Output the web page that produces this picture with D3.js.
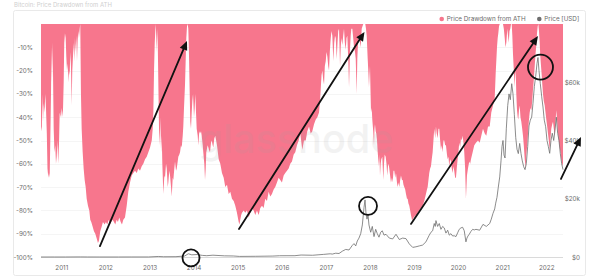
<!DOCTYPE html>
<html><head><meta charset="utf-8">
<script src="https://cdn.jsdelivr.net/npm/d3@7"></script>
<style>
html,body{margin:0;padding:0;background:#fff;}
svg{display:block;font-family:Inter,"Noto Sans",sans-serif;}
</style></head><body>
<svg id="chart" width="600" height="277"></svg>
<script>
// ---------- DATA ----------
const yearTicks = [2011,2012,2013,2014,2015,2016,2017,2018,2019,2020,2021,2022];
const ddTicks = [-10,-20,-30,-40,-50,-60,-70,-80,-90,-100];
const priceTicks = [0,20000,40000,60000];
const legendLabels = ["Price Drawdown from ATH","Price [USD]"];

// [decimal year, drawdown %]
const drawdownSeries = [
[2010.540,-44],[2010.558,-46],[2010.569,-30],[2010.585,-42],[2010.601,-34],[2010.619,-38],[2010.638,-30],[2010.653,-36],[2010.672,-47],[2010.687,-62],[2010.706,-66],[2010.721,-64],[2010.737,-66],[2010.751,-50],[2010.767,-30],[2010.778,-10],[2010.789,-25],[2010.801,-8],[2010.812,-20],[2010.828,-45],[2010.846,-55],[2010.864,-52],[2010.880,-60],[2010.896,-57],[2010.914,-50],[2010.930,-60],[2010.948,-52],[2010.964,-38],[2010.982,-40],[2011.000,-36],[2011.016,-40],[2011.039,-37],[2011.055,-25],[2011.068,-8],[2011.084,-4],[2011.100,-6],[2011.114,-14],[2011.130,-20],[2011.146,-17],[2011.159,-25],[2011.175,-20],[2011.191,-22],[2011.205,-12],[2011.220,-18],[2011.236,-35],[2011.250,-20],[2011.266,-14],[2011.282,-8],[2011.295,-16],[2011.311,-6],[2011.327,-12],[2011.341,-5],[2011.357,-16],[2011.372,-7],[2011.386,-3],[2011.402,-6],[2011.418,-2],[2011.431,0],[2011.447,-30],[2011.463,-45],[2011.486,-55],[2011.508,-62],[2011.531,-67],[2011.554,-70],[2011.577,-75],[2011.606,-78],[2011.636,-80],[2011.658,-84],[2011.681,-85],[2011.713,-87],[2011.742,-89],[2011.772,-90],[2011.803,-92],[2011.833,-94],[2011.855,-93],[2011.885,-89],[2011.917,-87],[2011.946,-85],[2011.985,-86],[2012.014,-85],[2012.044,-86],[2012.076,-84],[2012.105,-86],[2012.134,-85],[2012.166,-84],[2012.196,-85],[2012.225,-86],[2012.257,-84],[2012.286,-85],[2012.316,-83],[2012.348,-85],[2012.377,-86],[2012.407,-84],
[2012.445,-83],[2012.484,-78],[2012.520,-72],[2012.559,-68],[2012.597,-65],[2012.633,-64],[2012.672,-63],[2012.711,-64],[2012.747,-62],[2012.785,-63],[2012.824,-61],[2012.860,-60],[2012.899,-58],[2012.937,-57],[2012.974,-55],[2013.012,-53],[2013.051,-50],[2013.073,-45],[2013.087,-38],[2013.103,-20],[2013.119,-8],[2013.132,-3],[2013.142,0],[2013.155,-6],[2013.164,-12],[2013.178,-2],[2013.189,-10],[2013.201,-26],[2013.216,-45],[2013.232,-52],[2013.246,-40],[2013.262,-55],[2013.278,-48],[2013.291,-60],[2013.314,-73],[2013.337,-65],[2013.352,-66],[2013.375,-60],[2013.391,-62],[2013.414,-70],[2013.427,-68],[2013.450,-63],[2013.466,-65],[2013.489,-70],[2013.504,-74],[2013.527,-66],[2013.541,-67],[2013.563,-62],[2013.579,-59],[2013.602,-63],[2013.618,-62],[2013.640,-59],[2013.654,-57],[2013.677,-56],[2013.693,-55],[2013.715,-52],[2013.731,-53],[2013.754,-48],[2013.767,-44],[2013.783,-36],[2013.806,-26],[2013.822,-15],[2013.836,-6],[2013.851,-1],[2013.867,0],[2013.881,-2],[2013.897,-14],[2013.913,-30],[2013.926,-42],[2013.942,-45],[2013.958,-38],[2013.972,-33],[2013.988,-30],[2014.010,-40],[2014.026,-36],[2014.040,-30],[2014.056,-38],[2014.071,-45],[2014.094,-48],[2014.108,-52],[2014.130,-46],[2014.146,-47],[2014.169,-46],[2014.185,-48],[2014.208,-52],[2014.221,-55],[2014.244,-60],[2014.260,-67],[2014.276,-62],[2014.289,-55],[2014.321,-52],[2014.350,-54],[2014.373,-55],[2014.396,-51],[2014.412,-50],[2014.434,-52],[2014.448,-53],[2014.471,-49],[2014.493,-48],
[2014.532,-52],[2014.570,-58],[2014.607,-60],[2014.645,-64],[2014.684,-66],[2014.720,-70],[2014.759,-69],[2014.797,-73],[2014.834,-72],[2014.872,-75],[2014.911,-76],[2014.947,-78],[2014.985,-81],[2015.024,-85],[2015.042,-86],[2015.060,-84],[2015.081,-82],[2015.099,-81],[2015.137,-80],[2015.174,-81],[2015.212,-80],[2015.251,-83],[2015.287,-81],[2015.326,-79],[2015.364,-80],[2015.401,-82],[2015.439,-80],[2015.478,-82],[2015.514,-79],[2015.553,-78],[2015.591,-79],[2015.627,-75],[2015.666,-76],[2015.704,-72],[2015.741,-74],[2015.779,-73],[2015.818,-71],[2015.854,-70],[2015.893,-68],[2015.931,-66],[2015.968,-67],[2016.006,-68],[2016.045,-65],[2016.081,-64],[2016.120,-63],[2016.158,-62],[2016.195,-60],[2016.233,-59],[2016.272,-56],[2016.308,-55],[2016.346,-52],[2016.385,-50],[2016.421,-47],
[2016.467,-54],[2016.505,-50],[2016.544,-50],[2016.580,-46],[2016.619,-44],[2016.657,-47],[2016.693,-46],[2016.732,-43],[2016.771,-41],[2016.807,-40],[2016.845,-38],[2016.868,-33],[2016.884,-28],[2016.902,-22],[2016.920,-20],[2016.941,-24],[2016.959,-26],[2016.977,-18],[2016.997,-16],[2017.015,-12],[2017.034,-14],[2017.054,-18],[2017.072,-20],[2017.090,-12],[2017.111,-6],[2017.129,-3],[2017.147,-5],[2017.170,-16],[2017.190,-8],[2017.208,-5],[2017.224,-6],[2017.247,-15],[2017.265,-8],[2017.281,-3],[2017.299,-2],[2017.322,-18],[2017.338,-10],[2017.351,-6],[2017.374,-9],[2017.394,-5],[2017.412,-2],[2017.431,-8],[2017.451,-11],[2017.469,-6],[2017.487,-5],[2017.508,-15],[2017.526,-27],[2017.537,-20],[2017.548,-11],[2017.564,-5],[2017.578,-2],[2017.601,-2],[2017.621,-6],[2017.639,-10],[2017.662,-12],[2017.678,-15],[2017.700,-30],[2017.714,-15],[2017.730,-8],[2017.752,-5],[2017.775,-8],[2017.791,-10],[2017.814,-2],[2017.832,-1],[2017.850,0],[2017.873,0],[2017.895,0],[2017.911,-2],[2017.927,-5],[2017.950,-15],[2017.963,-20],[2017.979,-27],[2017.990,-22],[2018.002,-18],[2018.013,-28],[2018.025,-38],[2018.041,-36],[2018.054,-41],[2018.075,-46],[2018.093,-52],[2018.104,-45],[2018.115,-43],[2018.131,-46],[2018.145,-47],[2018.161,-50],[2018.177,-55],[2018.190,-58],[2018.206,-61],[2018.217,-56],[2018.229,-65],[2018.245,-60],[2018.258,-58],[2018.281,-57],[2018.304,-67],[2018.320,-60],[2018.335,-56],[2018.358,-57],[2018.376,-60],[2018.394,-65],[2018.415,-60],[2018.433,-61],
[2018.478,-68],[2018.501,-66],[2018.517,-68],[2018.535,-63],[2018.553,-63],[2018.574,-66],[2018.592,-64],[2018.614,-68],[2018.630,-70],[2018.648,-68],[2018.667,-70],[2018.687,-67],[2018.705,-65],[2018.728,-67],[2018.744,-67],[2018.762,-69],[2018.780,-70],[2018.801,-71],[2018.819,-73],[2018.841,-75],[2018.857,-75],[2018.875,-77],[2018.894,-78],[2018.914,-80],[2018.932,-82],[2018.955,-84],[2018.971,-84],[2018.989,-83],[2019.007,-83],[2019.027,-82],[2019.045,-83],[2019.084,-81],[2019.120,-80],[2019.159,-79],[2019.197,-78],[2019.234,-76],[2019.272,-73],[2019.295,-71],[2019.311,-70],[2019.329,-67],[2019.347,-64],[2019.367,-62],[2019.386,-61],[2019.404,-58],[2019.424,-55],[2019.442,-50],[2019.460,-45],[2019.483,-49],[2019.499,-44],[2019.517,-47],[2019.537,-49],[2019.556,-45],[2019.574,-45],[2019.594,-50],[2019.612,-54],[2019.630,-52],[2019.651,-55],[2019.669,-50],[2019.687,-50],[2019.708,-52],[2019.726,-52],[2019.749,-56],[2019.765,-58],[2019.783,-57],[2019.801,-61],[2019.822,-58],[2019.839,-59],[2019.858,-62],[2019.878,-64],[2019.896,-61],[2019.914,-63],[2019.935,-66],[2019.953,-66],[2019.971,-62],[2019.991,-58],[2020.009,-55],[2020.027,-51],[2020.048,-53],[2020.066,-49],[2020.084,-50],[2020.104,-48],[2020.123,-51],[2020.141,-55],[2020.161,-62],[2020.179,-75],[2020.191,-70],[2020.202,-65],[2020.225,-62],[2020.254,-59],[2020.275,-60],[2020.293,-58],[2020.331,-55],[2020.368,-52],[2020.406,-51],
[2020.452,-50],[2020.490,-51],[2020.527,-48],[2020.565,-45],[2020.604,-47],[2020.640,-48],[2020.679,-44],[2020.717,-44],[2020.753,-38],[2020.792,-35],[2020.830,-32],[2020.853,-21],[2020.869,-15],[2020.882,-10],[2020.898,-6],[2020.912,-4],[2020.928,-1],[2020.944,0],[2020.962,0],[2020.980,0],[2021.000,0],[2021.018,0],[2021.037,-2],[2021.057,-6],[2021.075,-10],[2021.093,-8],[2021.116,-2],[2021.132,-5],[2021.148,-8],[2021.166,-3],[2021.184,-2],[2021.200,0],[2021.216,0],[2021.230,-5],[2021.245,-13],[2021.264,-20],[2021.284,-27],[2021.295,-22],[2021.307,-20],[2021.320,-30],[2021.336,-37],[2021.352,-40],[2021.366,-41],[2021.381,-37],[2021.397,-35],[2021.415,-40],[2021.434,-42],[2021.454,-45],[2021.472,-48],[2021.490,-52],[2021.511,-58],[2021.522,-60],[2021.534,-62],[2021.547,-56],[2021.563,-53],[2021.579,-49],[2021.593,-45],[2021.608,-41],[2021.624,-38],[2021.642,-36],[2021.661,-37],[2021.681,-33],[2021.699,-28],[2021.717,-24],[2021.738,-18],[2021.756,-13],[2021.774,-9],[2021.790,-4],[2021.806,-1],[2021.819,0],[2021.835,-3],[2021.851,-8],[2021.865,-14],[2021.881,-18],[2021.897,-22],[2021.910,-26],[2021.926,-30],[2021.944,-33],[2021.965,-35],[2021.983,-38],[2022.001,-41],[2022.021,-44],[2022.039,-47],[2022.058,-50],[2022.078,-54],[2022.096,-49],[2022.114,-45],[2022.135,-43],[2022.153,-42],[2022.171,-45],[2022.192,-48],[2022.210,-42],[2022.228,-37],[2022.248,-42],[2022.266,-47],[2022.284,-50],[2022.305,-53],[2022.323,-55],[2022.341,-58],[2022.361,-60],[2022.380,-61]
];

// [decimal year, price USD]
const priceSeries = [
[2010.540,0.07],[2010.850,0.3],[2011.100,1],[2011.431,28],[2011.600,10],[2011.860,2.5],[2012.300,5],[2012.600,11],[2012.980,13],[2013.200,180],[2013.320,90],[2013.600,110],[2013.800,350],[2013.880,1100],[2013.960,750],[2014.080,850],[2014.200,550],[2014.300,450],[2014.440,620],[2014.700,400],[2014.900,350],[2015.040,200],[2015.400,240],[2015.800,320],[2015.950,430],[2016.300,450],[2016.440,680],[2016.700,600],[2016.950,900],[2017.100,1100],
[2017.147,1000],[2017.224,1300],[2017.299,1200],[2017.374,2000],[2017.451,2600],[2017.526,2400],[2017.601,4000],[2017.639,4600],[2017.678,3800],[2017.714,5500],[2017.752,6500],[2017.791,8000],[2017.828,11000],[2017.866,17000],[2017.889,19600],[2017.911,15000],[2017.934,13000],[2017.957,14500],[2017.979,11000],[2018.018,8500],[2018.054,10500],[2018.093,7000],[2018.131,9500],[2018.168,8000],[2018.206,6800],[2018.245,8500],[2018.281,9000],[2018.320,7500],[2018.365,7800],[2018.440,6500],[2018.517,6200],[2018.592,7800],[2018.667,6000],[2018.744,6500],[2018.819,6300],[2018.894,4500],[2018.971,3300],[2019.045,3500],[2019.120,3800],[2019.197,4100],[2019.272,5200],[2019.347,7500],[2019.386,8500],[2019.424,9000],[2019.460,11500],[2019.483,10500],[2019.499,12500],[2019.537,10500],[2019.574,11500],[2019.612,9500],[2019.651,10500],[2019.687,10000],[2019.726,8200],[2019.765,9200],[2019.801,7500],[2019.839,8000],[2019.878,7200],[2019.914,7300],[2019.953,7000],[2019.991,8300],[2020.027,9500],[2020.066,10000],[2020.104,10200],[2020.141,9000],[2020.179,5200],[2020.202,6500],[2020.225,7200],[2020.254,7800],[2020.293,8800],[2020.331,9500],[2020.368,9300],[2020.406,9500],[2020.490,9200],[2020.565,11200],[2020.640,10500],[2020.717,11500],[2020.753,13000],[2020.792,15000],[2020.830,16500],[2020.853,18500],[2020.882,20500],[2020.912,24000],[2020.944,27500],[2020.973,33000],[2020.996,38000],[2021.018,40000],[2021.041,35000],[2021.064,34000],[2021.093,44000],[2021.125,52000],[2021.155,56000],[2021.184,54000],[2021.216,59500],[2021.245,56000],[2021.275,49000],[2021.307,41000],[2021.336,37000],[2021.366,35500],[2021.397,39000],[2021.427,35500],[2021.456,33000],[2021.488,31000],[2021.518,30000],[2021.547,32000],[2021.579,38000],[2021.608,45000],[2021.638,47000],[2021.669,48000],[2021.699,52800],[2021.729,58500],[2021.760,62000],[2021.790,66500],[2021.812,68500],[2021.835,64000],[2021.865,59500],[2021.897,55000],[2021.926,51500],[2021.955,47000],[2021.987,44700],[2022.017,40000],[2022.046,38000],[2022.078,35600],[2022.107,40000],[2022.137,42500],[2022.169,40000],[2022.198,43500],[2022.228,48000],[2022.259,42500],[2022.289,40000],[2022.318,35600],[2022.350,32000],[2022.380,30000]
];

// hand-drawn annotations, in data units [decimal year, drawdown %]
const arrowStarts = [[2011.878,-95.3],[2015.031,-88.0],[2018.932,-85.8],[2022.334,-66.5]];
const arrowEnds   = [[2013.851,-7.3],[2017.877,-3.4],[2021.812,-5.2],[2022.788,-48.5]];
const circleCenters = [[2013.942,-100.4],[2017.957,-78.1],[2021.869,-18.5]];

// ---------- DRAW ----------
function toDate(t){const yr=Math.floor(t);const a=Date.UTC(yr,0,1),b=Date.UTC(yr+1,0,1);return new Date(a+(t-yr)*(b-a));}

const svg = d3.select("#chart");
const plot = {left:41,right:563,top:24,bottom:257};
const x = d3.scaleUtc().domain([toDate(2010.54),toDate(2022.38)]).range([plot.left,plot.right]);
const y = d3.scaleLinear().domain([-100,0]).range([plot.bottom,plot.top]);
const yP = d3.scaleLinear().domain([0,80000]).range([plot.bottom,plot.top]);
const textColor="#6b6b6b", fs=6.3;

// faint title above the card
svg.append("text").attr("x",14).attr("y",7).attr("font-size",6).attr("fill","#cfcfcf").text("Bitcoin: Price Drawdown from ATH");

// card
svg.append("rect").attr("x",13.5).attr("y",10.5).attr("width",572).attr("height",265).attr("rx",2)
  .attr("fill","#fff").attr("stroke","#e9e9e9").attr("stroke-width",1);

// gridlines
svg.append("g").selectAll("line").data(ddTicks).join("line")
  .attr("x1",plot.left).attr("x2",plot.right)
  .attr("y1",d=>Math.round(y(d))+0.5).attr("y2",d=>Math.round(y(d))+0.5)
  .attr("stroke",d=>d===-100?"#d0d0d0":"#f0f0f0").attr("stroke-width",d=>d===-100?0.8:0.7);

// drawdown area
const area = d3.area().x(d=>x(toDate(d[0]))).y0(y(0)).y1(d=>y(d[1]));
svg.append("path").datum(drawdownSeries).attr("d",area).attr("fill","#f7768d");

// price line
const line = d3.line().x(d=>x(toDate(d[0]))).y(d=>yP(d[1]));
svg.append("path").datum(priceSeries).attr("d",line).attr("fill","none")
  .attr("stroke","#6e6e6e").attr("stroke-width",0.8).attr("stroke-linejoin","round");

// watermark
svg.append("text").attr("x",296).attr("y",153).attr("text-anchor","middle")
  .attr("font-size",40).attr("font-weight",500).attr("fill","#a0a0a0").attr("opacity",0.13)
  .attr("textLength",195).attr("lengthAdjust","spacingAndGlyphs").text("glassnode");

// axes
const yAxis = d3.axisLeft(y).tickValues(ddTicks).tickSize(0).tickPadding(3).tickFormat(d=>d+"%");
const gy = svg.append("g").attr("transform","translate(36,0)").call(yAxis);
const pAxis = d3.axisRight(yP).tickValues(priceTicks).tickSize(0).tickPadding(0)
  .tickFormat(d=>d===0?"$0":"$"+(d/1000)+"k");
const gp = svg.append("g").attr("transform","translate(580,0)").call(pAxis);
gp.selectAll("text").attr("text-anchor","end").attr("x",0);
const xAxis = d3.axisBottom(x).tickValues(yearTicks.map(v=>new Date(Date.UTC(v,0,1))))
  .tickSize(0).tickPadding(3).tickFormat(d3.utcFormat("%Y"));
const gx = svg.append("g").attr("transform","translate(0,262.5)").call(xAxis);
[gy,gp,gx].forEach(g=>{
  g.select(".domain").remove();
  g.selectAll("text").attr("fill",textColor).attr("font-size",fs).attr("font-family","Inter,'Noto Sans',sans-serif");
});

// legend
const legendColors=["#f7768d","#6e6e6e"];
const legendX=[441.7,539.3];
const lg = svg.append("g");
legendLabels.forEach((lab,i)=>{
  lg.append("circle").attr("cx",legendX[i]).attr("cy",19).attr("r",2.3).attr("fill",legendColors[i]);
  lg.append("text").attr("x",legendX[i]+5).attr("y",21.3).attr("font-size",fs).attr("fill",textColor).text(lab);
});

// annotations
const ann = svg.append("g").attr("stroke","#111").attr("fill","none").attr("stroke-width",1.8).attr("stroke-linecap","round");
arrowStarts.forEach((s,i)=>{
  const e=arrowEnds[i];
  const x1=x(toDate(s[0])),y1=y(s[1]),x2=x(toDate(e[0])),y2=y(e[1]);
  const ang=Math.atan2(y2-y1,x2-x1), L=9, hw=4;
  const bx=x2-L*Math.cos(ang), by=y2-L*Math.sin(ang);
  ann.append("line").attr("x1",x1).attr("y1",y1).attr("x2",bx+2*Math.cos(ang)).attr("y2",by+2*Math.sin(ang));
  const p1=[bx+hw*Math.sin(ang),by-hw*Math.cos(ang)], p2=[bx-hw*Math.sin(ang),by+hw*Math.cos(ang)];
  ann.append("path").attr("d",`M${x2},${y2}L${p1[0]},${p1[1]}L${p2[0]},${p2[1]}Z`).attr("fill","#111").attr("stroke","none");
});
const circleRadii=[8.5,9,12.5];
circleCenters.forEach((c,i)=>{
  ann.append("circle").attr("cx",x(toDate(c[0]))).attr("cy",y(c[1])).attr("r",circleRadii[i]);
});
</script>
</body></html>
